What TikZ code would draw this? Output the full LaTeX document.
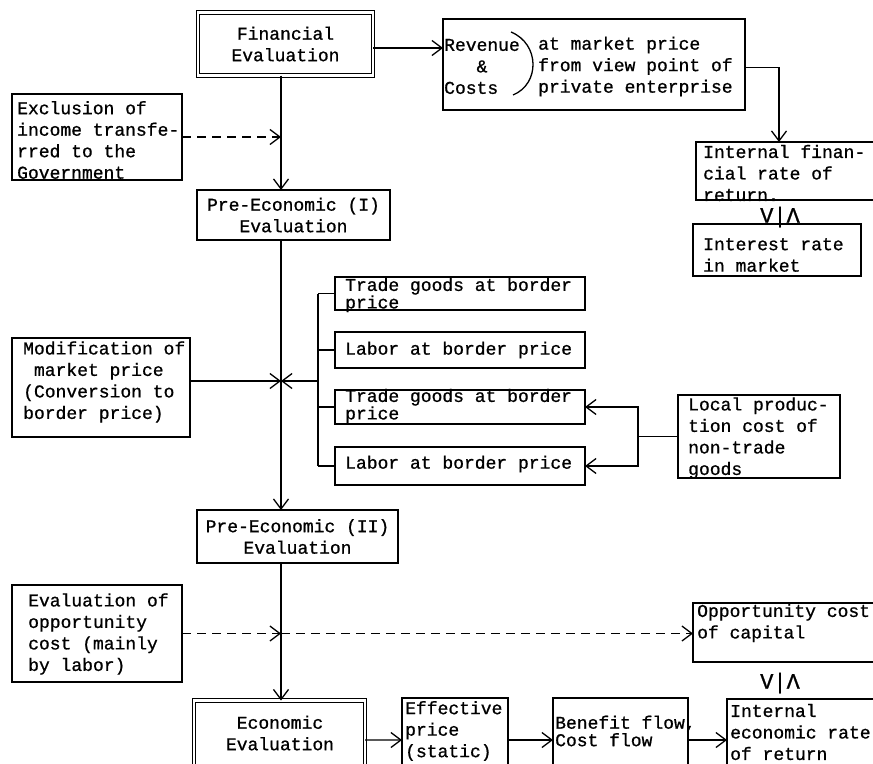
\documentclass[tikz,border=0pt]{standalone}
\usepackage{fontspec}
\newfontfamily\tw{Liberation Mono}[FakeBold=0.9]
\usetikzlibrary{arrows.meta,calc}
\tikzset{
  ln/.style={line width=1.3bp},
  box/.style={draw, line width=1.3bp, anchor=north west, inner sep=0pt, outer sep=0pt},
  dbox/.style={box, double, double distance=2.6bp, line width=1.1bp},
  txt/.style={anchor=west, align=left, inner sep=0pt, font=\tw\fontsize{18bp}{21.5bp}\selectfont},
  ctxt/.style={txt, anchor=center, align=center},
  tight/.style={txt, font=\tw\fontsize{18bp}{17.5bp}\selectfont},
  rel/.style={inner sep=0pt, font=\tw\fontsize{22bp}{22bp}\selectfont},
  arr/.style={ln, -{Straight Barb[length=10bp,width=15bp,line width=1.3bp]}},
  darr/.style={arr, dash pattern=on 9bp off 6bp},
}
\begin{document}
\begin{tikzpicture}[x=1bp,y=-1bp]
\useasboundingbox (0,0) rectangle (873,764);
\fill[white] (0,0) rectangle (873,764);
\clip (0,0) rectangle (873,764);

% spine
\coordinate (sp) at (281,0);
\coordinate (xc) at (281,381);
\coordinate (br) at (318,381);
\coordinate (lc) at (638,0);
\coordinate (ri) at (779,0);

% boxes
\node[dbox, minimum width=175bp, minimum height=63bp] (fin) at (198,12.5) {};
\node[box, minimum width=302bp, minimum height=91bp] (rev) at (443,19) {};
\node[box, minimum width=184bp, minimum height=58bp] (irr) at (696,142) {};
\node[box, minimum width=168bp, minimum height=52bp] (intr) at (693,224) {};
\node[box, minimum width=170bp, minimum height=86bp] (excl) at (12,94) {};
\node[box, minimum width=193bp, minimum height=50bp] (pre1) at (197,190) {};
\node[box, minimum width=178bp, minimum height=99bp] (mod) at (12,338) {};
\node[box, minimum width=250bp, minimum height=33bp] (trade1) at (335,277) {};
\node[box, minimum width=250bp, minimum height=36bp] (lab1) at (335,332) {};
\node[box, minimum width=250bp, minimum height=34bp] (trade2) at (335,390) {};
\node[box, minimum width=250bp, minimum height=38bp] (lab2) at (335,447) {};
\node[box, minimum width=162bp, minimum height=83bp] (local) at (678,395) {};
\node[box, minimum width=201bp, minimum height=53bp] (pre2) at (197,510) {};
\node[box, minimum width=170bp, minimum height=97bp] (eval) at (12,585) {};
\node[box, minimum width=190bp, minimum height=59bp] (opp) at (693,603) {};
\node[dbox, minimum width=171bp, minimum height=79bp] (econ) at (194,700.5) {};
\node[box, minimum width=106bp, minimum height=84bp] (eff) at (402,698) {};
\node[box, minimum width=135bp, minimum height=84bp] (ben) at (553,698) {};
\node[box, minimum width=160bp, minimum height=82bp] (ier) at (727,699) {};

% texts
\node[ctxt] (tfin) at (fin.center) {Financial\\Evaluation};
\node[txt] (trev) at (444,66.5) {Revenue\\\hspace*{1.8em}\&\\Costs};
\node[txt] (trev2) at (538,66.5) {at market price\\from view point of\\private enterprise};
\node[txt] (tirr) at (703,173) {Internal finan-\\cial rate of\\return.};
\node[rel] (rel1) at (780,217) {V|Λ};
\node[txt] (tintr) at (703,255) {Interest rate\\in market};
\node[txt] (texcl) at (17,140) {Exclusion of\\income transfe-\\rred to the\\Government};
\node[ctxt] (tpre1) at (pre1.center) {Pre-Economic (I)\\Evaluation};
\node[txt] (tmod) at (23,382) {Modification of\\\hspace*{0.6em}market price\\(Conversion to\\border price)};
\node[tight] (ttr1) at (345,295) {Trade goods at border\\price};
\node[txt] (tlab1) at (345,350) {Labor at border price};
\node[tight] (ttr2) at (345,406) {Trade goods at border\\price};
\node[txt] (tlab2) at (345,464) {Labor at border price};
\node[txt] (tlocal) at (688,438) {Local produc-\\tion cost of\\non-trade\\goods};
\node[ctxt] (tpre2) at (pre2.center) {Pre-Economic (II)\\Evaluation};
\node[txt] (teval) at (28,634) {Evaluation of\\opportunity\\cost (mainly\\by labor)};
\node[txt] (topp) at (697,623) {Opportunity cost\\of capital};
\node[rel] (rel2) at (780,683) {V|Λ};
\node[ctxt] (tecon) at (280,733) {Economic\\Evaluation};
\node[txt] (teff) at (405,731) {Effective\\price\\(static)};
\node[tight] (tben) at (555,731) {Benefit flow,\\Cost flow};
\node[txt] (tier) at (730,732) {Internal\\economic rate\\of return};

% bracket in revenue box
\draw[ln] (511,32) .. controls (540,44) and (540,84) .. (513,95);

% connectors
\coordinate (fe) at ([yshift=-4bp]fin.east);
\draw[arr] (fe) -- (fe -| rev.west);
\draw[arr] ([yshift=-3bp]rev.east) -| (ri |- irr.north);
\draw[arr] (sp |- fin.south) -- (sp |- pre1.north);
\draw[darr] (excl.east) -- (sp |- excl.east);
\draw[arr] (sp |- pre1.south) -- (sp |- pre2.north);
\draw[arr] (mod.east |- xc) -- (xc);
\draw[ln] (br |- trade1.west) -- (br |- lab2.west);
\draw[ln] (br |- trade1.west) -- (trade1.west);
\draw[ln] (br |- lab1.west) -- (lab1.west);
\draw[ln] (br |- trade2.west) -- (trade2.west);
\draw[ln] (br |- lab2.west) -- (lab2.west);
\draw[arr] (br) -- (xc);
\draw[ln] (local.west) -- (lc |- local.west);
\draw[arr] (lc |- local.west) |- (trade2.east);
\draw[arr] (lc |- local.west) |- (lab2.east);
\draw[arr] (sp |- pre2.south) -- (sp |- econ.north);
\draw[darr] (eval.east) -- (sp |- eval.east);
\draw[darr] (sp |- eval.east) -- (opp.west |- eval.east);
\draw[arr] (econ.east) -- (eff.west);
\draw[arr] (eff.east) -- (ben.west);
\draw[arr] (ben.east) -- (ier.west);
\end{tikzpicture}
\end{document}
